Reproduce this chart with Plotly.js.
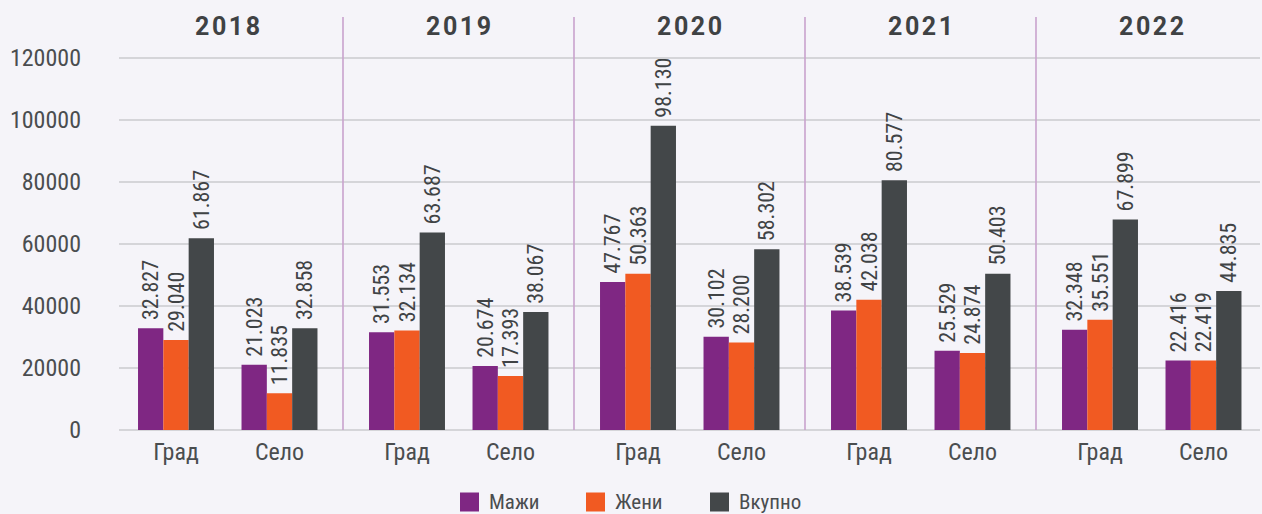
<!DOCTYPE html>
<html>
<head>
<meta charset="utf-8">
<script src="https://cdn.plot.ly/plotly-3.0.1.min.js"></script>
<style>
  html, body { margin: 0; padding: 0; background: #F5F4F9; }
  #chart { width: 1262px; height: 514px; }
</style>
</head>
<body>
<div id="chart"></div>
<script>
// ---- data ----
const years = ['2018', '2019', '2020', '2021', '2022'];
const places = ['Град', 'Село'];
const seriesNames = ['Мажи', 'Жени', 'Вкупно'];
const seriesColors = ['#7F2783', '#F15A22', '#434749'];
// values ordered: 2018 Град, 2018 Село, 2019 Град, 2019 Село, ...
const maji = [32827, 21023, 31553, 20674, 47767, 30102, 38539, 25529, 32348, 22416];
const zeni = [29040, 11835, 32134, 17393, 50363, 28200, 42038, 24874, 35551, 22419];
const vkupno = [61867, 32858, 63687, 38067, 98130, 58302, 80577, 50403, 67899, 44835];
const yTicks = [0, 20000, 40000, 60000, 80000, 100000, 120000];

// ---- layout helpers ----
const SLOT = 231;                 // width of one year block in x units
const OFFS = [64, 167.5];         // position of Град / Село inside a block
const xPos = [];
const xLabels = [];
years.forEach((y, i) => places.forEach((p, j) => {
  xPos.push(i * SLOT + OFFS[j]);
  xLabels.push(p);
}));

const FONT = 'Roboto Condensed, Roboto, Arial, sans-serif';
const values = [maji, zeni, vkupno];
const traces = values.map((vals, k) => ({
  type: 'bar',
  name: seriesNames[k],
  x: xPos,
  y: vals,
  marker: { color: seriesColors[k] },
  texttemplate: '\u2005%{y:,}',
  textposition: 'outside',
  textangle: -90,
  constraintext: 'none',
  cliponaxis: false,
  textfont: { family: FONT, size: 22, color: '#404345' },
  showlegend: false,
  hoverinfo: 'skip'
}));

const shapes = [];
for (let i = 1; i < years.length; i++) {
  shapes.push({
    type: 'line', xref: 'x', yref: 'paper',
    x0: i * SLOT, x1: i * SLOT, y0: 0, y1: 1,
    line: { color: '#C9A2CD', width: 1.6 }
  });
}
const annotations = years.map((y, i) => ({
  xref: 'x', yref: 'paper', x: i * SLOT + SLOT / 2, y: 0.976,
  text: '<b>' + y.split('').join('\u200A') + '</b>', showarrow: false,
  xanchor: 'center', yanchor: 'middle',
  font: { family: 'Roboto, sans-serif', size: 25, color: '#3F4244' }
}));

// custom legend (bigger square swatches)
const legX = [460, 586, 710];
const legY = 502;
seriesNames.forEach((n, k) => {
  shapes.push({
    type: 'rect', xref: 'paper', yref: 'paper',
    x0: (legX[k] - 119) / 1141, x1: (legX[k] + 19 - 119) / 1141,
    y0: (430 - (legY + 9.5)) / 413, y1: (430 - (legY - 9.5)) / 413,
    fillcolor: seriesColors[k], line: { width: 0 }
  });
  annotations.push({
    xref: 'paper', yref: 'paper',
    x: (legX[k] + 27 - 119) / 1141, y: (430 - legY) / 413,
    xanchor: 'left', yanchor: 'middle', showarrow: false,
    text: n, font: { family: FONT, size: 21, color: '#4A4D4F' }
  });
});

const layout = {
  width: 1262, height: 514,
  margin: { l: 119, r: 2, t: 17, b: 84 },
  paper_bgcolor: '#F5F4F9',
  plot_bgcolor: '#F5F4F9',
  separators: ',.',
  barmode: 'group',
  bargap: 0.266,
  bargroupgap: 0,
  showlegend: false,
  font: { family: FONT, color: '#4A4D4F' },
  xaxis: {
    range: [7, 1148],
    tickvals: xPos, ticktext: xLabels,
    tickfont: { family: FONT, size: 24, color: '#4A4D4F' },
    showgrid: false, zeroline: false, showline: false,
    ticks: '', ticklabelstandoff: 5, fixedrange: true
  },
  yaxis: {
    range: [0, 133226],
    tickvals: yTicks,
    tickformat: 'd',
    tickfont: { family: FONT, size: 24, color: '#4A4D4F' },
    showgrid: true, gridcolor: '#D5D5D9', gridwidth: 1.5,
    zeroline: true, zerolinecolor: '#D5D5D9', zerolinewidth: 1.5,
    showline: false, ticks: '', ticklabelstandoff: 37, fixedrange: true
  },
  shapes: shapes,
  annotations: annotations
};

Plotly.newPlot('chart', traces, layout, { displayModeBar: false, staticPlot: true });
</script>
</body>
</html>
